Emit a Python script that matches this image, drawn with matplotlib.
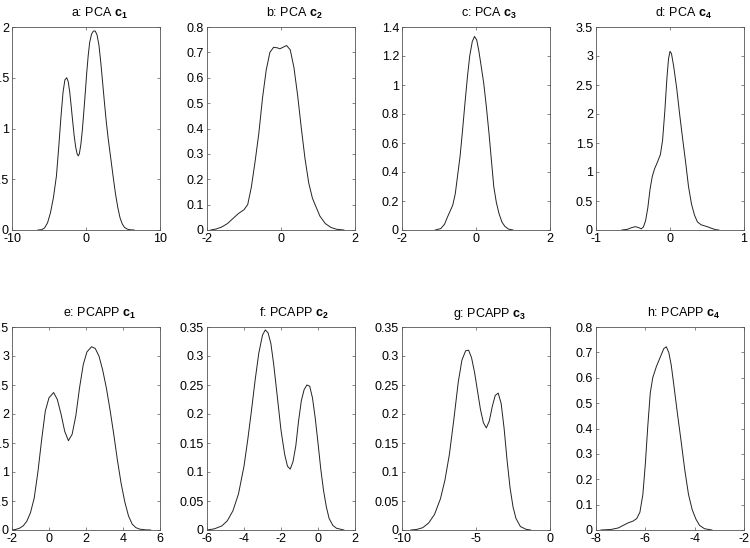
import matplotlib
matplotlib.use("Agg")
import matplotlib.pyplot as plt
from matplotlib.ticker import FuncFormatter

plt.rcParams['font.family'] = ['Liberation Sans', 'DejaVu Sans']
plt.rcParams['mathtext.fontset'] = 'custom'
plt.rcParams['mathtext.rm'] = 'Liberation Sans'
plt.rcParams['mathtext.bf'] = 'Liberation Sans:bold'

# density curves (x, y)
a_x = [-6.5, -6.0, -5.6, -5.2, -4.8, -4.4, -4.0, -3.7, -3.4, -3.1, -2.85, -2.6, -2.4,
       -2.2, -2.0, -1.8, -1.6, -1.4, -1.2, -1.05, -0.9, -0.7, -0.5, -0.3, -0.1, 0.1,
       0.3, 0.5, 0.75, 1.0, 1.25, 1.5, 1.75, 2.0, 2.25, 2.5, 2.75, 3.0, 3.25, 3.5,
       3.75, 4.0, 4.3, 4.6, 4.9, 5.2, 5.6, 6.0, 6.5]
a_y = [0, 0.003, 0.02, 0.07, 0.17, 0.32, 0.53, 0.80, 1.10, 1.36, 1.48, 1.50, 1.46,
       1.36, 1.22, 1.07, 0.93, 0.82, 0.75, 0.73, 0.75, 0.84, 0.98, 1.16, 1.35, 1.55,
       1.72, 1.85, 1.93, 1.96, 1.96, 1.92, 1.82, 1.65, 1.45, 1.25, 1.06, 0.9, 0.76, 0.62,
       0.48, 0.35, 0.22, 0.12, 0.06, 0.025, 0.008, 0.002, 0]

b_x = [-1.9, -1.75, -1.6, -1.45, -1.3, -1.15, -1.0, -0.9, -0.8, -0.7, -0.6, -0.5, -0.4,
       -0.3, -0.2, -0.1, -0.03, 0.05, 0.15, 0.25, 0.35, 0.45, 0.55, 0.65, 0.75, 0.85,
       0.95, 1.05, 1.2, 1.35, 1.5, 1.7]
b_y = [0, 0.004, 0.012, 0.025, 0.045, 0.065, 0.08, 0.1, 0.17, 0.27, 0.38, 0.52, 0.63,
       0.70, 0.72, 0.718, 0.714, 0.72, 0.727, 0.71, 0.64, 0.53, 0.40, 0.28, 0.185, 0.125,
       0.09, 0.055, 0.025, 0.01, 0.003, 0]

c_x = [-1.1, -0.95, -0.85, -0.77, -0.7, -0.63, -0.56, -0.5, -0.43, -0.37, -0.3, -0.23,
       -0.17, -0.1, -0.04, 0.02, 0.08, 0.14, 0.21, 0.28, 0.35, 0.42, 0.48, 0.55, 0.62,
       0.7, 0.78, 0.88, 1.0]
c_y = [0, 0.01, 0.04, 0.09, 0.13, 0.17, 0.25, 0.37, 0.51, 0.67, 0.87, 1.06,
       1.2, 1.3, 1.335, 1.31, 1.23, 1.13, 1.01, 0.85, 0.67, 0.47, 0.3, 0.19, 0.115,
       0.055, 0.025, 0.006, 0]

d_x = [-0.65, -0.58, -0.52, -0.47, -0.43, -0.39, -0.36, -0.33, -0.3, -0.27, -0.24, -0.21,
       -0.17, -0.13, -0.1, -0.07, -0.04, -0.02, 0.0, 0.02, 0.05, 0.09, 0.13, 0.17, 0.21,
       0.25, 0.29, 0.33, 0.37, 0.42, 0.47, 0.52, 0.57, 0.62, 0.66]
d_y = [0, 0.01, 0.04, 0.057, 0.045, 0.02, 0.05, 0.16, 0.38, 0.70, 0.92, 1.05,
       1.17, 1.3, 1.55, 2.05, 2.65, 2.95, 3.08, 3.04, 2.82, 2.45, 2.0, 1.58, 1.18,
       0.75, 0.45, 0.26, 0.14, 0.09, 0.07, 0.05, 0.025, 0.005, 0]

e_x = [-2.0, -1.8, -1.6, -1.4, -1.2, -1.0, -0.8, -0.6, -0.4, -0.2, 0.0, 0.25, 0.45,
       0.65, 0.85, 1.05, 1.25, 1.45, 1.65, 1.85, 2.05, 2.3, 2.5, 2.7, 2.9, 3.1, 3.3,
       3.5, 3.7, 3.9, 4.1, 4.3, 4.5, 4.7, 4.9, 5.2, 5.5]
e_y = [0, 0.01, 0.03, 0.07, 0.15, 0.3, 0.55, 1.0, 1.55, 2.05, 2.28, 2.37, 2.25,
       2.0, 1.7, 1.54, 1.65, 1.97, 2.45, 2.85, 3.07, 3.16, 3.13, 3.0, 2.76, 2.45, 2.07,
       1.65, 1.2, 0.8, 0.48, 0.24, 0.1, 0.04, 0.015, 0.003, 0]

f_x = [-6.0, -5.6, -5.2, -4.9, -4.6, -4.3, -4.0, -3.8, -3.6, -3.4, -3.2, -3.0, -2.85,
       -2.7, -2.55, -2.4, -2.2, -2.0, -1.8, -1.65, -1.5, -1.35, -1.2, -1.05, -0.9, -0.75,
       -0.6, -0.45, -0.3, -0.15, 0.0, 0.15, 0.3, 0.45, 0.6, 0.8, 1.0, 1.4]
f_y = [0, 0.002, 0.007, 0.016, 0.033, 0.062, 0.11, 0.155, 0.205, 0.258, 0.305, 0.336, 0.345,
       0.34, 0.322, 0.287, 0.23, 0.172, 0.13, 0.11, 0.105, 0.118, 0.145, 0.188, 0.223, 0.242,
       0.25, 0.248, 0.228, 0.193, 0.15, 0.105, 0.068, 0.04, 0.02, 0.008, 0.003, 0]

g_x = [-9.4, -9.0, -8.6, -8.2, -7.8, -7.4, -7.1, -6.8, -6.5, -6.2, -5.95, -5.7, -5.5,
       -5.3, -5.1, -4.9, -4.7, -4.5, -4.3, -4.1, -3.9, -3.7, -3.5, -3.3, -3.1, -2.9,
       -2.7, -2.5, -2.3, -2.0, -1.6, -1.3]
g_y = [0, 0.001, 0.004, 0.012, 0.027, 0.054, 0.086, 0.13, 0.19, 0.255, 0.293, 0.309, 0.31,
       0.297, 0.272, 0.24, 0.208, 0.185, 0.176, 0.188, 0.213, 0.232, 0.236, 0.218, 0.175, 0.12,
       0.073, 0.04, 0.02, 0.006, 0.001, 0]

h_x = [-7.8, -7.4, -7.1, -6.9, -6.7, -6.5, -6.35, -6.22, -6.1, -6.0, -5.9, -5.8, -5.7,
       -5.55, -5.4, -5.25, -5.15, -5.05, -4.95, -4.85, -4.7, -4.55, -4.4, -4.25, -4.1,
       -3.95, -3.8, -3.6, -3.3]
h_y = [0, 0.002, 0.008, 0.018, 0.028, 0.035, 0.045, 0.07, 0.14, 0.26, 0.41, 0.54, 0.6,
       0.645, 0.68, 0.715, 0.722, 0.7, 0.65, 0.575, 0.46, 0.35, 0.236, 0.14, 0.08,
       0.043, 0.018, 0.005, 0]

letters = ['a', 'b', 'c', 'd', 'e', 'f', 'g', 'h']
methods = ['PCA'] * 4 + ['PCAPP'] * 4
comps = ['1', '2', '3', '4'] * 2
curves = [(a_x, a_y), (b_x, b_y), (c_x, c_y), (d_x, d_y),
          (e_x, e_y), (f_x, f_y), (g_x, g_y), (h_x, h_y)]
xticks = [[-10, 0, 10], [-2, 0, 2], [-2, 0, 2], [-1, 0, 1],
          [-2, 0, 2, 4, 6], [-6, -4, -2, 0, 2], [-10, -5, 0], [-8, -6, -4, -2]]
yticks = [[0, 0.5, 1, 1.5, 2],
          [0, 0.1, 0.2, 0.3, 0.4, 0.5, 0.6, 0.7, 0.8],
          [0, 0.2, 0.4, 0.6, 0.8, 1, 1.2, 1.4],
          [0, 0.5, 1, 1.5, 2, 2.5, 3, 3.5],
          [0, 0.5, 1, 1.5, 2, 2.5, 3, 3.5],
          [0, 0.05, 0.1, 0.15, 0.2, 0.25, 0.3, 0.35],
          [0, 0.05, 0.1, 0.15, 0.2, 0.25, 0.3, 0.35],
          [0, 0.1, 0.2, 0.3, 0.4, 0.5, 0.6, 0.7, 0.8]]

fig = plt.figure(figsize=(7.5, 5.48), dpi=100)
lefts = [12, 207, 402, 596]
bottoms = [230, 530]
W, H = 148, 203

fmt = FuncFormatter(lambda v, p: ('%g' % v))

for i in range(8):
    row, col = divmod(i, 4)
    ax = fig.add_axes([lefts[col] / 750, 1 - bottoms[row] / 548, W / 750, H / 548])
    cx, cy = curves[i]
    ax.plot(cx, cy, color='#222222', lw=0.7)
    ax.set_xlim(xticks[i][0], xticks[i][-1])
    ax.set_ylim(yticks[i][0], yticks[i][-1])
    ax.set_xticks(xticks[i])
    ax.set_yticks(yticks[i])
    ax.xaxis.set_major_formatter(fmt)
    ax.yaxis.set_major_formatter(fmt)
    ax.tick_params(direction='in', top=True, right=True, length=2.5, width=0.5,
                   labelsize=9, pad=2.2, color='#555555')
    for s in ax.spines.values():
        s.set_linewidth(0.6)
        s.set_color('#555555')
    # titles sit a little right of the axes centre in the original
    ax.set_title(letters[i] + ': ' + methods[i] + r' $\mathbf{c}_\mathbf{' + comps[i] + '}$',
                 fontsize=9, pad=7, x=0.59)

fig.savefig('out.png', dpi=100)
